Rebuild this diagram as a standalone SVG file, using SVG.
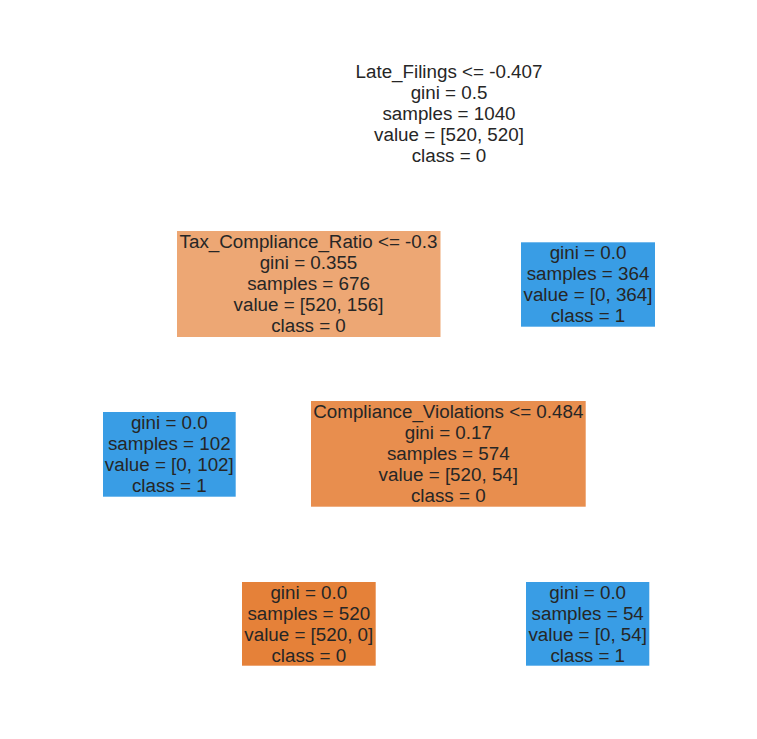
<svg xmlns="http://www.w3.org/2000/svg" width="757" height="739" viewBox="0 0 757 739">
<style>
text{font-family:"Liberation Sans",Arial,sans-serif;font-size:18.8px;fill:#262626;text-anchor:middle}
.c0{fill:#e58139}.c1{fill:#399de5}
</style>
<rect width="757" height="739" fill="#ffffff"/>
<g id="connectors"></g>
<g id="node0">
<rect x="354" y="61" width="190" height="106" fill="#ffffff"/>
<text x="449" y="78">Late_Filings &lt;= -0.407</text>
<text x="449" y="99">gini = 0.5</text>
<text x="449" y="120">samples = 1040</text>
<text x="449" y="141">value = [520, 520]</text>
<text x="449" y="162">class = 0</text>
</g>
<g id="node1">
<rect x="177" y="231" width="263.5" height="106" fill="#eda774"/>
<text x="308.5" y="248">Tax_Compliance_Ratio &lt;= -0.3</text>
<text x="308.5" y="269">gini = 0.355</text>
<text x="308.5" y="290">samples = 676</text>
<text x="308.5" y="311">value = [520, 156]</text>
<text x="308.5" y="332">class = 0</text>
</g>
<g id="node2">
<rect x="521" y="242.3" width="134" height="84.4" class="c1"/>
<text x="588" y="258.5">gini = 0.0</text>
<text x="588" y="279.5">samples = 364</text>
<text x="588" y="300.5">value = [0, 364]</text>
<text x="588" y="321.5">class = 1</text>
</g>
<g id="node3">
<rect x="103" y="412" width="132.7" height="84.7" class="c1"/>
<text x="169.3" y="428.5">gini = 0.0</text>
<text x="169.3" y="449.5">samples = 102</text>
<text x="169.3" y="470.5">value = [0, 102]</text>
<text x="169.3" y="491.5">class = 1</text>
</g>
<g id="node4">
<rect x="311" y="401" width="274.7" height="105.7" fill="#e88e4e"/>
<text x="448.3" y="418">Compliance_Violations &lt;= 0.484</text>
<text x="448.3" y="439">gini = 0.17</text>
<text x="448.3" y="460">samples = 574</text>
<text x="448.3" y="481">value = [520, 54]</text>
<text x="448.3" y="502">class = 0</text>
</g>
<g id="node5">
<rect x="242" y="582" width="133.7" height="83.7" class="c0"/>
<text x="308.8" y="598.5">gini = 0.0</text>
<text x="308.8" y="619.5">samples = 520</text>
<text x="308.8" y="640.5">value = [520, 0]</text>
<text x="308.8" y="661.5">class = 0</text>
</g>
<g id="node6">
<rect x="526" y="582" width="123.3" height="83.7" class="c1"/>
<text x="587.7" y="598.5">gini = 0.0</text>
<text x="587.7" y="619.5">samples = 54</text>
<text x="587.7" y="640.5">value = [0, 54]</text>
<text x="587.7" y="661.5">class = 1</text>
</g>
</svg>
